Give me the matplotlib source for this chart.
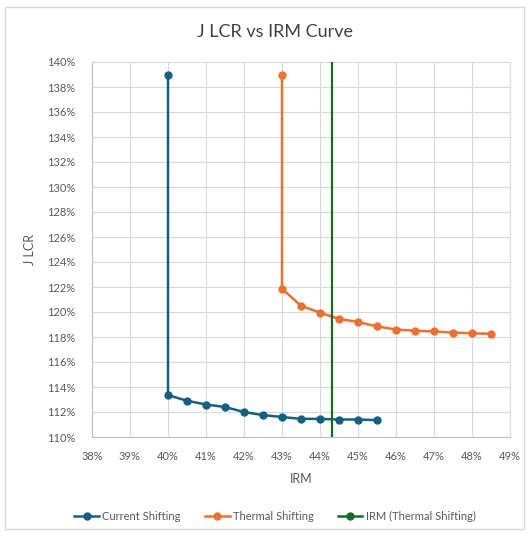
import matplotlib
matplotlib.use('Agg')
import matplotlib.pyplot as plt
from matplotlib.lines import Line2D
from matplotlib.patches import Rectangle
from matplotlib.ticker import FuncFormatter, MultipleLocator

plt.rcParams['font.family'] = ['Lato', 'DejaVu Sans']

# data (x = IRM %, y = J LCR %)
current_x = [40, 40, 40.5, 41, 41.5, 42, 42.5, 43, 43.5, 44, 44.5, 45, 45.5]
current_y = [139, 113.35, 112.9, 112.6, 112.4, 112.0, 111.75, 111.6, 111.45, 111.45, 111.4, 111.4, 111.35]
thermal_x = [43, 43, 43.5, 44, 44.5, 45, 45.5, 46, 46.5, 47, 47.5, 48, 48.5]
thermal_y = [139, 121.85, 120.5, 119.95, 119.45, 119.2, 118.85, 118.6, 118.5, 118.45, 118.35, 118.3, 118.25]
irm_x = [44.32, 44.32]
irm_y = [110, 140]

c_blue = '#156082'
c_orange = '#E97132'
c_green = '#196B24'
grey_txt = '#595959'

fig = plt.figure(figsize=(5.29, 5.33), dpi=100)
ax = fig.add_axes([92 / 529, 1 - 437 / 533, (510 - 92) / 529, (437 - 62) / 533])

# chart border
fig.patches.append(Rectangle((5 / 529, 4 / 533), 519 / 529, 522 / 533, transform=fig.transFigure,
                             fill=False, edgecolor='#d9d9d9', linewidth=1))

ax.plot(current_x, current_y, color=c_blue, lw=1.8, marker='o', ms=5, zorder=3)
ax.plot(thermal_x, thermal_y, color=c_orange, lw=1.8, marker='o', ms=5, zorder=3)
ax.plot(irm_x, irm_y, color=c_green, lw=1.6, zorder=4)

ax.set_xlim(38, 49)
ax.set_ylim(110, 140)
ax.xaxis.set_major_locator(MultipleLocator(1))
ax.yaxis.set_major_locator(MultipleLocator(2))
ax.xaxis.set_major_formatter(FuncFormatter(lambda v, p: f'{v:.0f}%'))
ax.yaxis.set_major_formatter(FuncFormatter(lambda v, p: f'{v:.0f}%'))
ax.tick_params(length=0, labelsize=8, colors=grey_txt, pad=10)
ax.tick_params(axis='y', pad=12)
ax.grid(True, color='#d9d9d9', lw=0.8)
ax.set_axisbelow(True)
for s in ax.spines.values():
    s.set_color('#d9d9d9')
ax.spines['left'].set_color('#bfbfbf')
ax.spines['bottom'].set_color('#bfbfbf')

ax.set_xlabel('IRM', fontsize=9, color=grey_txt, labelpad=8)
ax.set_ylabel('J LCR', fontsize=9, color=grey_txt, labelpad=8)
fig.text(0.52, 1 - 32 / 533, 'J LCR vs IRM Curve', ha='center', va='center', fontsize=13, color='#404040')

handles = [
    Line2D([], [], color=c_blue, lw=1.8, marker='o', ms=5),
    Line2D([], [], color=c_orange, lw=1.8, marker='o', ms=5),
    Line2D([], [], color=c_green, lw=1.8, marker='o', ms=5),
]
fig.legend(handles, ['Current Shifting', 'Thermal Shifting', 'IRM (Thermal Shifting)'],
           loc='center', bbox_to_anchor=(0.52, 1 - 516 / 533), ncol=3, frameon=False,
           fontsize=8, labelcolor=grey_txt, handlelength=2.2, handletextpad=0.3, columnspacing=2.2)

fig.savefig('out.png', dpi=100)
